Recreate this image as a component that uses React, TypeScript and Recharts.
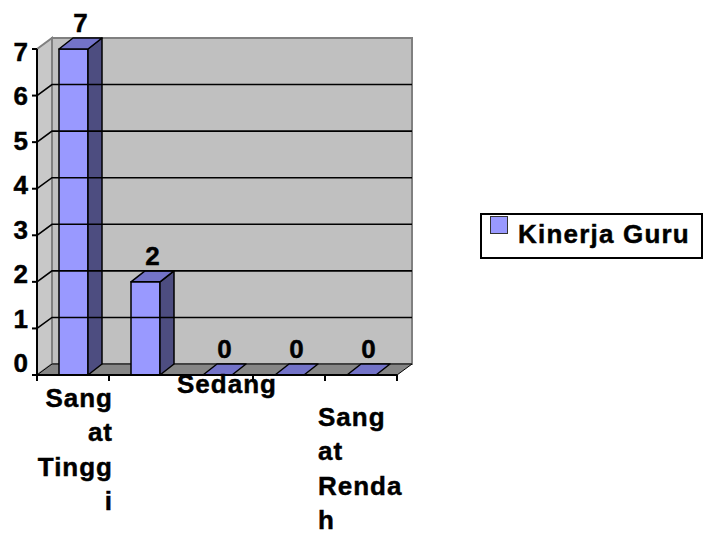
import {
  BarChart,
  Bar,
  XAxis,
  YAxis,
  ReferenceArea,
  ReferenceLine,
  LabelList,
  Legend
} from "recharts";

/* ---------- DATA ---------- */

const categories = ["Sangat Tinggi", "Tinggi", "Sedang", "Rendah", "Sangat Rendah"];
const kinerjaGuru = [7, 2, 0, 0, 0];
const yTicks = [0, 1, 2, 3, 4, 5, 6, 7];
const seriesName = "Kinerja Guru";

const data = categories.map((c, i) => ({ kategori: c, value: kinerjaGuru[i] }));

/* ---------- STYLE ---------- */

const FONT = "'Liberation Sans', Arial, sans-serif";
const DX = 15; // depth of the walls
const DY = 11;
const BDX = 14; // depth of the bars

const textStyle = {
  fontFamily: FONT,
  fontWeight: "bold" as const,
  fontSize: 26,
  fill: "#000",
  stroke: "#000",
  strokeWidth: 0.45
};

/* ---------- WALLS + FLOOR ---------- */

function Walls(props: any) {
  const { x, y, width: w, height: h } = props;
  const fy = y + h;
  const bounds = [0, 1, 2, 3, 4, 5].map(i => x + (i * w) / 5);

  return (
    <g>
      <polygon
        points={`${x},${y} ${x + DX},${y - DY} ${x + DX},${fy - DY} ${x},${fy}`}
        fill="#C8C8C8"
        stroke="#808080"
        strokeWidth={2}
      />
      <rect x={x + DX} y={y - DY} width={w} height={h} fill="#C0C0C0" stroke="#808080" strokeWidth={2} />
      <polygon
        points={`${x},${fy} ${x + w},${fy} ${x + w + DX},${fy - DY} ${x + DX},${fy - DY}`}
        fill="#868686"
        stroke="#000"
        strokeWidth={1}
      />
      {bounds.map((bx, i) => (
        <line key={i} x1={bx} y1={fy} x2={bx} y2={fy + 6} stroke="#000" strokeWidth={2} />
      ))}
    </g>
  );
}

/* ---------- GRID LINE (side wall + back wall) ---------- */

function GridLine(props: any) {
  const { x1, y1, x2, y2 } = props;
  if (x1 == null) return null;
  return (
    <path
      d={`M${x1},${y1} L${x1 + DX},${y1 - DY} L${x2 + DX},${y2 - DY}`}
      fill="none"
      stroke="#000"
      strokeWidth={1.6}
    />
  );
}

/* ---------- 3D BAR ---------- */

function Bar3D(props: any) {
  const { x, y, width: w, height: h } = props;
  if (x == null || y == null) return null;
  return (
    <g stroke="#000" strokeWidth={1.5} strokeLinejoin="round">
      {h > 0 && <rect x={x} y={y} width={w} height={h} fill="#9999FF" />}
      {h > 0 && (
        <polygon
          points={`${x + w},${y} ${x + w + BDX},${y - DY} ${x + w + BDX},${y + h - DY} ${x + w},${y + h}`}
          fill="#4D4D80"
        />
      )}
      <polygon
        points={`${x},${y} ${x + w},${y} ${x + w + BDX},${y - DY} ${x + BDX},${y - DY}`}
        fill="#7373C8"
      />
    </g>
  );
}

/* ---------- VALUE LABEL ---------- */

function TopLabel(props: any) {
  const { x, y, width, value } = props;
  return (
    <text x={x + width / 2 + 7} y={y - DY - 6} textAnchor="middle" {...textStyle}>
      {value}
    </text>
  );
}

/* ---------- AXIS TICKS ---------- */

function YTick(props: any) {
  const { x, y, payload } = props;
  const shift = 3 - (7 - payload.value) * 2.1;
  return (
    <text x={x} y={y + shift + 9} textAnchor="end" {...textStyle}>
      {payload.value}
    </text>
  );
}

// Excel wrapped these labels inside a narrow box
const tickLayout: Record<string, any> = {
  "Sangat Tinggi": { lines: ["Sang", "at", "Tingg", "i"], anchor: "end", dx: 40, dy: 32 },
  "Sedang": { lines: ["Sedang"], anchor: "middle", dx: 10, dy: 18 },
  "Sangat Rendah": { lines: ["Sang", "at", "Renda", "h"], anchor: "start", dx: -43, dy: 51 }
};

function XTick(props: any) {
  const { x, y, payload } = props;
  const lay = tickLayout[payload.value];
  if (!lay) return null;
  return (
    <text textAnchor={lay.anchor} letterSpacing={1} {...textStyle}>
      {lay.lines.map((ln: string, i: number) => (
        <tspan key={i} x={x + lay.dx} y={y + lay.dy + i * 34.3}>
          {ln}
        </tspan>
      ))}
    </text>
  );
}

/* ---------- LEGEND ---------- */

function LegendBox({ payload }: any) {
  const item = payload && payload[0];
  return (
    <div
      style={{
        boxSizing: "border-box",
        width: "100%",
        height: "100%",
        border: "2px solid #000",
        background: "#fff",
        position: "relative"
      }}
    >
      <span
        style={{
          position: "absolute",
          left: 8,
          top: 1,
          width: 18,
          height: 18,
          boxSizing: "border-box",
          background: "#9999FF",
          border: "1.5px solid #333"
        }}
      />
      <span
        style={{
          position: "absolute",
          left: 36,
          top: 4,
          lineHeight: "30px",
          fontFamily: FONT,
          fontWeight: "bold",
          fontSize: 26,
          letterSpacing: 1.2,
          whiteSpace: "nowrap",
          color: "#000",
          WebkitTextStroke: "0.45px #000"
        }}
      >
        {item ? item.value : seriesName}
      </span>
    </div>
  );
}

export default function App() {
  return (
    <div style={{ position: "absolute", left: 0, top: 0, width: 705, height: 535, background: "#fff" }}>
      <BarChart
        width={705}
        height={535}
        data={data}
        margin={{ top: 49, right: 308, left: 0, bottom: 0 }}
      >
        <ReferenceArea y1={0} y2={7} ifOverflow="visible" shape={<Walls />} />

        {yTicks.filter(k => k > 0 && k < 7).map(k => (
          <ReferenceLine key={k} y={k} ifOverflow="visible" shape={<GridLine />} />
        ))}

        <YAxis
          type="number"
          domain={[0, 7]}
          ticks={yTicks}
          interval={0}
          width={37}
          axisLine={{ stroke: "#000", strokeWidth: 2 }}
          tickLine={{ stroke: "#000", strokeWidth: 2 }}
          tickSize={5}
          tickMargin={4}
          tick={<YTick />}
        />

        <XAxis
          dataKey="kategori"
          height={160}
          interval={1}
          axisLine={{ stroke: "#000", strokeWidth: 2 }}
          tickLine={false}
          tickSize={0}
          tickMargin={0}
          tick={<XTick />}
        />

        <Legend
          layout="horizontal"
          verticalAlign="middle"
          align="center"
          wrapperStyle={{ left: 480, top: 213, width: 223, height: 46 }}
          content={<LegendBox />}
        />

        <Bar
          dataKey="value"
          name={seriesName}
          fill="#9999FF"
          barSize={29}
          shape={<Bar3D />}
          isAnimationActive={false}
        >
          <LabelList dataKey="value" content={<TopLabel />} />
        </Bar>
      </BarChart>
    </div>
  );
}
